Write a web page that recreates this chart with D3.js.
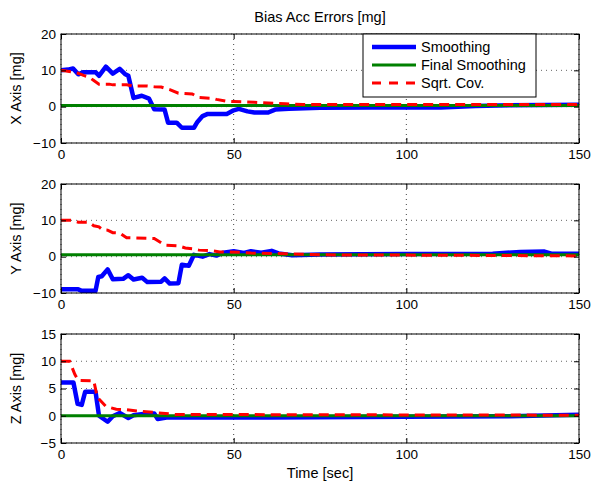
<!DOCTYPE html>
<meta charset="utf-8">
<script src="https://d3js.org/d3.v7.min.js"></script>
<html>
<head>
<style>
body { margin: 0; background: #fff; }
text { font-family: "Liberation Sans", Arial, sans-serif; }
</style>
</head>
<body>
<svg id="chart" width="594" height="482"></svg>
<script>

// time range and ticks
var timeSpan = [0, 150];
var timeTicks = [0, 50, 100, 150];

// panels
var panelLabels = ["X Axis [mg]", "Y Axis [mg]", "Z Axis [mg]"];
var panelDomains = [[-10, 20], [-10, 20], [-5, 15]];
var panelTicks = [[-10, 0, 10, 20], [-10, 0, 10, 20], [-5, 0, 5, 10, 15]];

// Smoothing  [time, mg]
var smoothX = [[0,10],[2,10.2],[3.5,10.5],[5,8.9],[6.5,9.5],[10,9.5],[11,8.5],[13,11],[15,9.1],[17,10.4],[18.5,9],[19.5,8.5],[21,2.4],[23.4,3],[25.5,2.2],[27,-0.7],[30,-0.8],[31,-4.4],[33.5,-4.4],[35,-5.8],[38.5,-5.8],[39.5,-4.2],[41,-2.6],[42.5,-2],[48,-2],[50,-1],[51.5,-0.6],[54,-1.3],[56,-1.6],[60,-1.6],[62,-0.8],[66,-0.6],[75,-0.3],[90,-0.2],[110,-0.2],[120,0.2],[130,0.4],[150,0.5]];
var smoothY = [[0,-9],[5,-9],[6,-9.4],[10,-9.4],[10.8,-5.6],[11.8,-5.4],[13.5,-3.5],[15,-6.2],[18,-6.1],[19.5,-5.1],[21,-6.3],[23.5,-5.8],[25,-7],[29,-6.9],[30,-6],[31.5,-7.4],[34,-7.3],[35,-2.2],[37,-2.5],[38.5,0.5],[41,0],[43,0.7],[45,0.3],[47,1.1],[50,1.5],[53,1],[55,1.5],[58,1.1],[61,1.6],[63,0.9],[67,0.4],[75,0.6],[100,0.7],[125,0.8],[133,1.3],[140,1.4],[142,0.8],[150,0.8]];
var smoothZ = [[0,6.1],[3.6,6.1],[4.8,2.2],[6,2],[7,4.4],[10,4.4],[11,0],[13.5,-1.1],[15,-0.1],[17,0.5],[19.5,-0.4],[21,0.1],[25,0.4],[27,0.4],[28,-0.6],[31,-0.3],[60,-0.3],[100,-0.2],[130,-0.1],[150,0.2]];

// Final Smoothing levels
var finalLevels = [0.35, 0.5, 0];

// Sqrt. Cov.
var covX = [[0,10],[3,9.6],[5,9.2],[6.5,8.6],[8,8.2],[9.5,7.2],[11,6.2],[14,6.2],[15,6],[19,6],[21,5.7],[25,5.7],[27,5.5],[29,5.4],[31.5,4.7],[34,3.7],[38,3.5],[40,2.5],[44,2.3],[45,2],[48,1.5],[50,1.4],[53,1.3],[56,1.2],[60,1],[65,0.8],[70,0.6],[150,0.6]];
var covY = [[0,10],[3,10],[5,9.5],[8,9.5],[9.5,8.5],[11,8.2],[12,7.4],[13.5,7.3],[15,6.6],[17,6.5],[19,5.2],[27,5],[29,3.8],[30,3.2],[34,3],[36,2.4],[38,2.2],[40,1.8],[44,1.6],[46,1.3],[52,1.2],[55,1],[65,0.8],[75,0.5],[110,0.4],[150,0.2]];
var covZ = [[0,10],[2.5,10],[4,7.6],[5,6.5],[9.5,6.4],[10.5,3.4],[13,1.7],[16,1.2],[19,1.1],[22,0.85],[27,0.6],[33,0.25],[60,0.2],[150,0.1]];

var smoothSets = [smoothX, smoothY, smoothZ];
var covSets = [covX, covY, covZ];

var legendNames = ["Smoothing", "Final Smoothing", "Sqrt. Cov."];

var svg = d3.select("#chart");
var left = 61, right = 579, plotH = 109;
var tops = [34, 184, 334];

var x = d3.scaleLinear().domain(timeSpan).range([left, right]);

svg.append("text")
  .attr("x", (left + right) / 2).attr("y", 22)
  .attr("text-anchor", "middle").style("font-size", "14.5px")
  .text("Bias Acc Errors [mg]");

tops.forEach(function(top, i) {
  var y = d3.scaleLinear().domain(panelDomains[i]).range([top + plotH, top]);
  var g = svg.append("g");

  g.append("clipPath").attr("id", "clip" + i)
    .append("rect").attr("x", left).attr("y", top).attr("width", right - left).attr("height", plotH);

  // grid
  g.selectAll(".gy").data(panelTicks[i]).enter().append("line")
    .attr("x1", left).attr("x2", right)
    .attr("y1", function(d){ return y(d) }).attr("y2", function(d){ return y(d) })
    .attr("stroke", "#666").attr("stroke-dasharray", "1,4");
  g.selectAll(".gx").data(timeTicks).enter().append("line")
    .attr("y1", top).attr("y2", top + plotH)
    .attr("x1", function(d){ return x(d) }).attr("x2", function(d){ return x(d) })
    .attr("stroke", "#444").attr("stroke-dasharray", "1,4");

  var line = d3.line().x(function(d){ return x(d[0]) }).y(function(d){ return y(d[1]) });
  var lines = g.append("g").attr("clip-path", "url(#clip" + i + ")");

  lines.append("path").datum(smoothSets[i]).attr("d", line)
    .attr("fill", "none").attr("stroke", "#0000ff").attr("stroke-width", 4.5)
    .attr("stroke-linejoin", "round");
  lines.append("path").datum([[timeSpan[0], finalLevels[i]], [timeSpan[1], finalLevels[i]]]).attr("d", line)
    .attr("fill", "none").attr("stroke", "#008000").attr("stroke-width", 3);
  lines.append("path").datum(covSets[i]).attr("d", line)
    .attr("fill", "none").attr("stroke", "#ff0000").attr("stroke-width", 3)
    .attr("stroke-dasharray", "10,6");

  // axes with inward ticks
  var axL = g.append("g").attr("transform", "translate(" + left + ",0)")
    .call(d3.axisLeft(y).tickValues(panelTicks[i]).tickSize(-5).tickSizeOuter(0).tickPadding(5));
  var axR = g.append("g").attr("transform", "translate(" + right + ",0)")
    .call(d3.axisRight(y).tickValues(panelTicks[i]).tickSize(-5).tickSizeOuter(0).tickFormat(""));
  var axB = g.append("g").attr("transform", "translate(0," + (top + plotH) + ")")
    .call(d3.axisBottom(x).tickValues(timeTicks).tickSize(-5).tickSizeOuter(0).tickPadding(6));
  var axT = g.append("g").attr("transform", "translate(0," + top + ")")
    .call(d3.axisTop(x).tickValues(timeTicks).tickSize(-5).tickSizeOuter(0).tickFormat(""));
  [axL, axR, axB, axT].forEach(function(a){
    a.select(".domain").remove();
    a.selectAll("text").style("font-size", "13.5px").attr("fill", "#000")
      .style("font-family", "'Liberation Sans', Arial, sans-serif");
  });
  axL.selectAll("text").text(function(d){ return d < 0 ? "\u2212" + Math.abs(d) : d });

  g.append("rect").attr("x", left).attr("y", top).attr("width", right - left).attr("height", plotH)
    .attr("fill", "none").attr("stroke", "#000").attr("stroke-width", 1);

  g.append("text")
    .attr("transform", "translate(21," + (top + plotH / 2) + ") rotate(-90)")
    .attr("text-anchor", "middle").style("font-size", "14.5px")
    .text(panelLabels[i]);
});

svg.append("text")
  .attr("x", (left + right) / 2).attr("y", 478)
  .attr("text-anchor", "middle").style("font-size", "14.5px")
  .text("Time [sec]");

// legend
var leg = svg.append("g");
leg.append("rect").attr("x", 363).attr("y", 34).attr("width", 173).attr("height", 63)
  .attr("fill", "#fff").attr("stroke", "#000");
var legStyles = [
  {color: "#0000ff", width: 4.5, dash: null},
  {color: "#008000", width: 3, dash: null},
  {color: "#ff0000", width: 3, dash: "9,8"}
];
legendNames.forEach(function(name, k) {
  var ly = 47 + k * 18;
  leg.append("line").attr("x1", 372).attr("x2", 416).attr("y1", ly).attr("y2", ly)
    .attr("stroke", legStyles[k].color).attr("stroke-width", legStyles[k].width)
    .attr("stroke-dasharray", legStyles[k].dash);
  leg.append("text").attr("x", 421).attr("y", ly + 5).style("font-size", "14.5px").text(name);
});

</script>
</body>
</html>
